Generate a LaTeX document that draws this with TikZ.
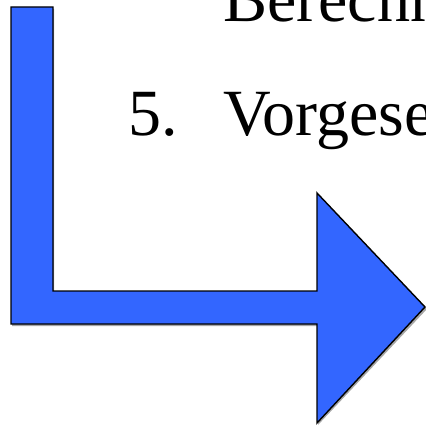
\documentclass[tikz,border=0pt]{standalone}
\usepackage{fontspec}
\setmainfont{Liberation Serif}
\definecolor{arrowblue}{RGB}{51,102,255}
\begin{document}
\begin{tikzpicture}[x=1pt,y=-1pt,
  bodytext/.style={anchor=base west,inner sep=0pt,font=\fontsize{66}{79}\selectfont},
  bentarrow/.style={fill=arrowblue,draw=black,line width=1.4pt,line join=miter}]
\useasboundingbox (0,0) rectangle (426,425);
\clip (0,0) rectangle (426,425);
% list text running off the right edge
\node[bodytext] (line1) at (223,22) {Berechnung};
\node[bodytext] (num5) at (128,136) {5.};
\node[bodytext] (line2) at (223,136) {Vorgesehen};
% soft shadow under the bent arrow
\fill[black!35] (12,9) -- (54,9) -- (54,293) -- (318,293) -- (318,195) -- (427,309)
  -- (318,425) -- (318,326) -- (12,326) -- cycle;
% bent arrow: down, then right
\draw[bentarrow] (11,7) -- (53,7) -- (53,291) -- (317,291) -- (317,193) -- (425,307)
  -- (317,423) -- (317,324) -- (11,324) -- cycle;
\end{tikzpicture}
\end{document}
